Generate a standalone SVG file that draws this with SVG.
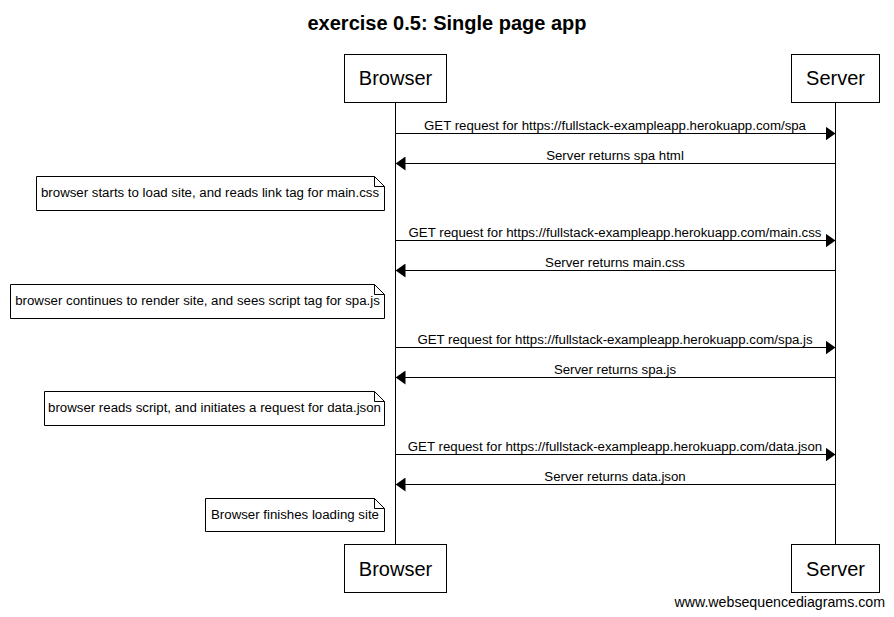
<svg xmlns="http://www.w3.org/2000/svg" width="894" height="617" viewBox="0 0 894 617">
  <style>
    text { font-family: "Liberation Sans", Arial, sans-serif; fill: #000; }
    .title { font-size: 20px; font-weight: bold; text-anchor: middle; }
    .actor rect { fill: #fff; stroke: #000; stroke-width: 1; }
    .actor text { font-size: 20px; text-anchor: middle; }
    .life { stroke: #000; stroke-width: 1; }
    .msg line { stroke: #000; stroke-width: 1; }
    .msg text { font-size: 13.25px; text-anchor: middle; }
    .note path { fill: #fff; stroke: #000; stroke-width: 1; }
    .note text { font-size: 13.25px; text-anchor: middle; }
    .foot { font-size: 14.2px; }
  </style>
  <defs>
    <marker id="head" viewBox="0 0 10 14" refX="10" refY="7" markerWidth="10" markerHeight="14" markerUnits="userSpaceOnUse" orient="auto">
      <path d="M0,0 L10,7 L0,14 Z" fill="#000"/>
    </marker>
  </defs>

  <rect x="0" y="0" width="894" height="617" fill="#fff"/>
  <text class="title" x="447" y="30">exercise 0.5: Single page app</text>

  <!-- lifelines -->
  <g id="lifelines">
    <line class="life" x1="395.5" y1="102" x2="395.5" y2="545"/>
    <line class="life" x1="835.5" y1="102" x2="835.5" y2="545"/>
  </g>

  <!-- participants -->
  <g id="browser-top" class="actor">
    <rect x="344.5" y="54.5" width="102" height="48"/>
    <text x="395.5" y="85">Browser</text>
  </g>
  <g id="server-top" class="actor">
    <rect x="791.5" y="54.5" width="88" height="48"/>
    <text x="835.5" y="85">Server</text>
  </g>
  <g id="browser-bottom" class="actor">
    <rect x="344.5" y="544.5" width="102" height="48"/>
    <text x="395.5" y="576">Browser</text>
  </g>
  <g id="server-bottom" class="actor">
    <rect x="791.5" y="544.5" width="88" height="48"/>
    <text x="835.5" y="576">Server</text>
  </g>

  <!-- messages -->
  <g id="connectors" class="msg">
    <text x="615" y="130">GET request for https://fullstack-exampleapp.herokuapp.com/spa</text>
    <line x1="395.5" y1="133.5" x2="835.5" y2="133.5" marker-end="url(#head)"/>
    <text x="615" y="160">Server returns spa html</text>
    <line x1="835.5" y1="163.5" x2="395.5" y2="163.5" marker-end="url(#head)"/>

    <text x="615" y="237">GET request for https://fullstack-exampleapp.herokuapp.com/main.css</text>
    <line x1="395.5" y1="240.5" x2="835.5" y2="240.5" marker-end="url(#head)"/>
    <text x="615" y="267">Server returns main.css</text>
    <line x1="835.5" y1="270.5" x2="395.5" y2="270.5" marker-end="url(#head)"/>

    <text x="615" y="344">GET request for https://fullstack-exampleapp.herokuapp.com/spa.js</text>
    <line x1="395.5" y1="347.5" x2="835.5" y2="347.5" marker-end="url(#head)"/>
    <text x="615" y="374">Server returns spa.js</text>
    <line x1="835.5" y1="377.5" x2="395.5" y2="377.5" marker-end="url(#head)"/>

    <text x="615" y="451">GET request for https://fullstack-exampleapp.herokuapp.com/data.json</text>
    <line x1="395.5" y1="454.5" x2="835.5" y2="454.5" marker-end="url(#head)"/>
    <text x="615" y="481">Server returns data.json</text>
    <line x1="835.5" y1="484.5" x2="395.5" y2="484.5" marker-end="url(#head)"/>
  </g>

  <!-- notes -->
  <g id="note-1" class="note">
    <path d="M36.5,176.5 H374.5 L384.5,186.5 V210.5 H36.5 Z M374.5,176.5 V186.5 H384.5"/>
    <text x="210" y="197">browser starts to load site, and reads link tag for main.css</text>
  </g>
  <g id="note-2" class="note">
    <path d="M10.5,284.5 H374.5 L384.5,294.5 V318.5 H10.5 Z M374.5,284.5 V294.5 H384.5"/>
    <text x="197.5" y="305">browser continues to render site, and sees script tag for spa.js</text>
  </g>
  <g id="note-3" class="note">
    <path d="M44.5,391.5 H374.5 L384.5,401.5 V425.5 H44.5 Z M374.5,391.5 V401.5 H384.5"/>
    <text x="214.5" y="412">browser reads script, and initiates a request for data.json</text>
  </g>
  <g id="note-4" class="note">
    <path d="M205.5,498.5 H374.5 L384.5,508.5 V531.5 H205.5 Z M374.5,498.5 V508.5 H384.5"/>
    <text x="295" y="519">Browser finishes loading site</text>
  </g>

  <text class="foot" x="885" y="607" text-anchor="end">www.websequencediagrams.com</text>
</svg>
